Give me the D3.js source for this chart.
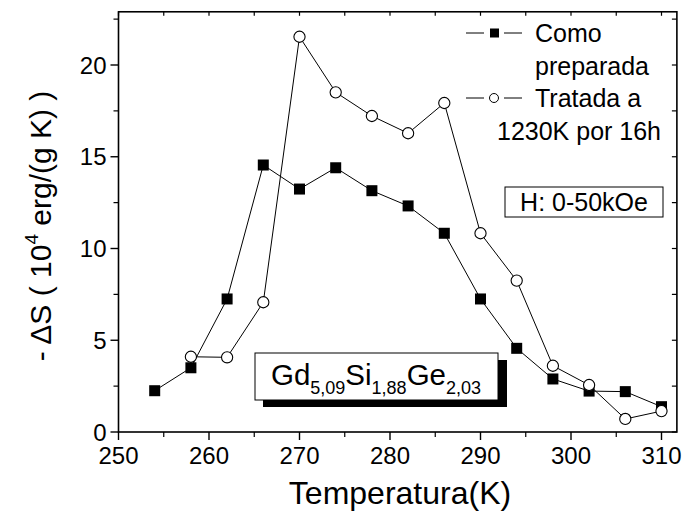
<!DOCTYPE html>
<html>
<head>
<meta charset="utf-8">
<script src="https://cdn.jsdelivr.net/npm/d3@7"></script>
<style>
  body { margin: 0; background: #fff; }
  text { font-family: Arial, "Liberation Sans", sans-serif; fill: #000; }
</style>
</head>
<body>
<svg id="canvas" width="688" height="514"></svg>
<script>
/********** Data **********/
var temps = [254, 258, 262, 266, 270, 274, 278, 282, 286, 290, 294, 298, 302, 306, 310];
var comoPreparada = [2.25, 3.5, 7.25, 14.55, 13.24, 14.4, 13.15, 12.32, 10.83, 7.25, 4.56, 2.89, 2.23, 2.2, 1.38];
var tempsTratada = [258, 262, 266, 270, 274, 278, 282, 286, 290, 294, 298, 302, 306, 310];
var tratada = [4.1, 4.07, 7.07, 21.54, 18.51, 17.22, 16.28, 17.93, 10.83, 8.25, 3.61, 2.56, 0.71, 1.14];
var xTicks = [250, 260, 270, 280, 290, 300, 310];
var yTicks = [0, 5, 10, 15, 20];
var legendLabels = [["Como", "preparada"], ["Tratada a", "1230K por 16h"]];

/********** Setup **********/
var svg = d3.select("#canvas");
var x = d3.scaleLinear().domain([250, 310]).range([118.5, 661.5]);
var y = d3.scaleLinear().domain([0, 20]).range([432, 65]);
var xMax = 311.7, yMax = 22.9;
var pLeft = x(250), pRight = x(xMax), pTop = y(yMax), pBottom = y(0);

/********** Frame and ticks **********/
var frame = svg.append("g");
frame.append("rect")
    .attr("x", pLeft).attr("y", pTop)
    .attr("width", pRight - pLeft).attr("height", pBottom - pTop)
    .attr("fill", "none").attr("stroke", "#000").attr("stroke-width", 1.6);

var xMinor = d3.range(255, xMax, 10);
var yMinor = d3.range(2.5, yMax, 5);

// bottom (outward)
xTicks.forEach(function(t) {
    frame.append("line").attr("x1", x(t)).attr("x2", x(t))
        .attr("y1", pBottom).attr("y2", pBottom + 8).attr("stroke", "#000").attr("stroke-width", 1.4);
    frame.append("text").attr("x", x(t)).attr("y", pBottom + 32)
        .attr("text-anchor", "middle").attr("font-size", 24).text(t);
});
xMinor.forEach(function(t) {
    frame.append("line").attr("x1", x(t)).attr("x2", x(t))
        .attr("y1", pBottom).attr("y2", pBottom + 5).attr("stroke", "#000").attr("stroke-width", 1.2);
});
// top (inward)
xTicks.concat(xMinor).forEach(function(t) {
    frame.append("line").attr("x1", x(t)).attr("x2", x(t))
        .attr("y1", pTop).attr("y2", pTop + 4).attr("stroke", "#000").attr("stroke-width", 1.2);
});
// left (outward)
yTicks.forEach(function(t) {
    frame.append("line").attr("x1", pLeft).attr("x2", pLeft - 8)
        .attr("y1", y(t)).attr("y2", y(t)).attr("stroke", "#000").attr("stroke-width", 1.4);
    frame.append("text").attr("x", pLeft - 12).attr("y", y(t) + 8.5)
        .attr("text-anchor", "end").attr("font-size", 24).text(t);
});
yMinor.forEach(function(t) {
    frame.append("line").attr("x1", pLeft).attr("x2", pLeft - 5)
        .attr("y1", y(t)).attr("y2", y(t)).attr("stroke", "#000").attr("stroke-width", 1.2);
});
// right (inward)
yTicks.concat(yMinor).forEach(function(t) {
    frame.append("line").attr("x1", pRight).attr("x2", pRight - 5)
        .attr("y1", y(t)).attr("y2", y(t)).attr("stroke", "#000").attr("stroke-width", 1.2);
});

/********** Axis titles **********/
svg.append("text").attr("x", 400).attr("y", 504)
    .attr("text-anchor", "middle").attr("font-size", 32).text("Temperatura(K)");

var yt = svg.append("text").attr("transform", "translate(51,226) rotate(-90)")
    .attr("text-anchor", "middle").attr("font-size", 30);
yt.append("tspan").text("- \u0394S ( 10");
yt.append("tspan").attr("font-size", 19).attr("dy", -13).text("4");
yt.append("tspan").attr("dy", 13).text(" erg/(g K) )");

/********** Series **********/
var line = d3.line().x(function(d) { return x(d[0]); }).y(function(d) { return y(d[1]); });
var sq = temps.map(function(t, i) { return [t, comoPreparada[i]]; });
var ci = tempsTratada.map(function(t, i) { return [t, tratada[i]]; });

svg.append("path").datum(sq).attr("d", line).attr("fill", "none").attr("stroke", "#000").attr("stroke-width", 1);
svg.append("path").datum(ci).attr("d", line).attr("fill", "none").attr("stroke", "#000").attr("stroke-width", 1);

svg.append("g").selectAll("rect").data(sq).enter().append("rect")
    .attr("x", function(d) { return x(d[0]) - 5.5; })
    .attr("y", function(d) { return y(d[1]) - 5.5; })
    .attr("width", 11).attr("height", 11).attr("fill", "#000");

svg.append("g").selectAll("circle").data(ci).enter().append("circle")
    .attr("cx", function(d) { return x(d[0]); })
    .attr("cy", function(d) { return y(d[1]); })
    .attr("r", 5.6).attr("fill", "#fff").attr("stroke", "#000").attr("stroke-width", 1.1);

/********** Legend **********/
var lg = svg.append("g");
[33, 98].forEach(function(cy, i) {
    lg.append("line").attr("x1", 466).attr("x2", 484).attr("y1", cy).attr("y2", cy).attr("stroke", "#000");
    lg.append("line").attr("x1", 504).attr("x2", 522).attr("y1", cy).attr("y2", cy).attr("stroke", "#000");
    if (i == 0) {
        lg.append("rect").attr("x", 490).attr("y", cy - 4.5).attr("width", 9).attr("height", 9).attr("fill", "#000");
    } else {
        lg.append("circle").attr("cx", 494).attr("cy", cy).attr("r", 4.5)
            .attr("fill", "#fff").attr("stroke", "#000");
    }
    legendLabels[i].forEach(function(s, j) {
        var tx = (i == 1 && j == 1) ? 497 : 535;
        lg.append("text").attr("x", tx).attr("y", cy + 9 + j * 33)
            .attr("font-size", 25).text(s);
    });
});

/********** Annotations **********/
svg.append("rect").attr("x", 505).attr("y", 187).attr("width", 158).attr("height", 30)
    .attr("fill", "#fff").attr("stroke", "#000").attr("stroke-width", 1);
svg.append("text").attr("x", 584).attr("y", 211).attr("text-anchor", "middle")
    .attr("font-size", 25).text("H: 0-50kOe");

svg.append("rect").attr("x", 263).attr("y", 360).attr("width", 244).attr("height", 47).attr("fill", "#000");
svg.append("rect").attr("x", 255).attr("y", 353).attr("width", 243).attr("height", 47)
    .attr("fill", "#fff").attr("stroke", "#000").attr("stroke-width", 1);
var f = svg.append("text").attr("x", 376).attr("y", 385).attr("text-anchor", "middle").attr("font-size", 29.5);
f.append("tspan").text("Gd");
f.append("tspan").attr("font-size", 18).attr("dy", 9).text("5,09");
f.append("tspan").attr("dy", -9).text("Si");
f.append("tspan").attr("font-size", 18).attr("dy", 9).text("1,88");
f.append("tspan").attr("dy", -9).text("Ge");
f.append("tspan").attr("font-size", 18).attr("dy", 9).text("2,03");
</script>
</body>
</html>
